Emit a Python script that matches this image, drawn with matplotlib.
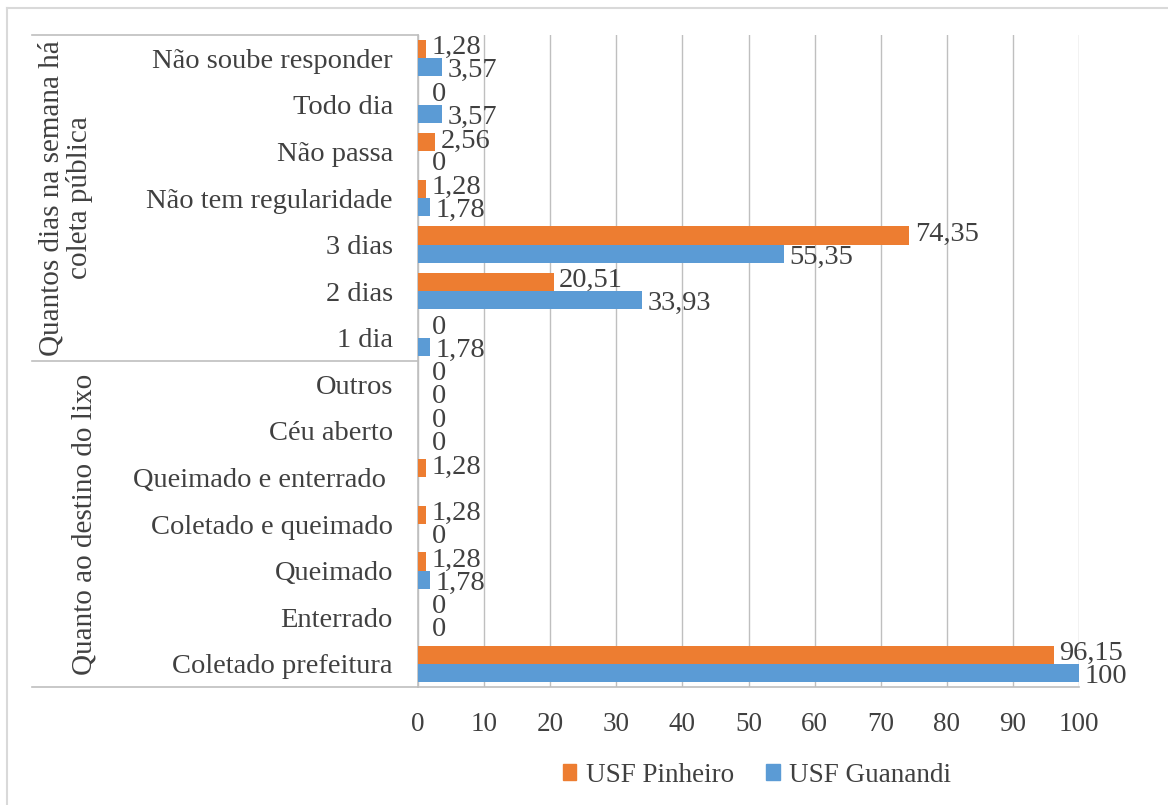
import matplotlib
matplotlib.use("Agg")
import matplotlib.pyplot as plt
import numpy as np
from matplotlib import transforms
from matplotlib.lines import Line2D
from matplotlib.patches import Patch

plt.rcParams['font.family'] = ['Liberation Serif', 'DejaVu Serif']

categories = ["Coletado prefeitura", "Enterrado", "Queimado", "Coletado e queimado",
              "Queimado e enterrado ", "Céu aberto", "Outros",
              "1 dia", "2 dias", "3 dias", "Não tem regularidade", "Não passa",
              "Todo dia", "Não soube responder"]
pinheiro = [96.15, 0, 1.28, 1.28, 1.28, 0, 0, 0, 20.51, 74.35, 1.28, 2.56, 0, 1.28]
guanandi = [100, 0, 1.78, 0, None, 0, 0, 1.78, 33.93, 55.35, 1.78, 0, 3.57, 3.57]
groups = ["Quanto ao destino do lixo", "Quantos dias na semana há\ncoleta pública"]
group_sizes = [7, 7]
series_names = ["USF Pinheiro", "USF Guanandi"]
xticks = list(range(0, 101, 10))

ORANGE = "#ED7D31"
BLUE = "#5B9BD5"
TXT = "#404040"
GRID = "#BFBFBF"
FS_CAT = 20.5
FS_TICK = 19.5
FS_LAB = 20.5
FS_GRP = 21
FS_LEG = 19.5

W, H = 1168, 805
fig = plt.figure(figsize=(W / 100, H / 100), dpi=100)
ax = fig.add_axes([418 / W, 1 - 687 / H, (1079 - 418) / W, (687 - 35) / H])

y = np.arange(len(categories))
h = 0.39
pv = np.array(pinheiro, dtype=float)
gv = np.array([np.nan if v is None else v for v in guanandi], dtype=float)
ax.barh(y + h / 2, pv, height=h, color=ORANGE, zorder=3)
ax.barh(y - h / 2, np.nan_to_num(gv), height=h, color=BLUE, zorder=3)

def fmt(v):
    if v == int(v):
        return str(int(v))
    return f"{v:.2f}".replace(".", ",")

def off(v):
    return 10 if v == 0 else 4

for yi, v in zip(y, pv):
    ax.annotate(fmt(v), (v, yi + h / 2 + 0.03), xytext=(off(v), 0), textcoords="offset points",
                ha="left", va="center", fontsize=FS_LAB, color=TXT, zorder=4)
for yi, v in zip(y, gv):
    if np.isnan(v):
        continue
    ax.annotate(fmt(v), (v, yi - h / 2 - 0.07), xytext=(off(v), 0), textcoords="offset points",
                ha="left", va="center", fontsize=FS_LAB, color=TXT, zorder=4)

ax.set_xlim(0, 100)
ax.set_ylim(-0.5, len(categories) - 0.5)
ax.set_xticks(xticks)
ax.set_xticklabels([str(t) for t in xticks])
ax.set_yticks(y)
ax.set_yticklabels(categories)
ax.tick_params(axis="both", length=0, colors=TXT)
ax.tick_params(axis="y", pad=18, labelsize=FS_CAT)
ax.tick_params(axis="x", pad=18, labelsize=FS_TICK)
ax.grid(axis="x", color=GRID, linewidth=1.0, zorder=0)
for s in ["top", "right"]:
    ax.spines[s].set_visible(False)
ax.spines["left"].set_color(GRID)
ax.spines["bottom"].set_color(GRID)
ax.spines["left"].set_linewidth(1.2)
ax.spines["bottom"].set_linewidth(1.2)

# multi-level category dividers and group labels
bt = transforms.blended_transform_factory(fig.transFigure, ax.transData)
x0 = 32 / W
x1 = 418 / W
bounds = [-0.5]
for s in group_sizes:
    bounds.append(bounds[-1] + s)
for b in bounds:
    fig.add_artist(Line2D([x0, x1], [b, b], transform=bt, color=GRID, linewidth=1.2))
gx = [85 / W, 66 / W]
for gi, g in enumerate(groups):
    mid = (bounds[gi] + bounds[gi + 1]) / 2
    fig.text(gx[gi], mid, g, transform=bt, rotation=90, ha="center", va="center",
             fontsize=FS_GRP, color=TXT, multialignment="center", linespacing=1.05)

# outer chart border
fig.add_artist(Line2D([7 / W, 1.0], [1 - 8 / H, 1 - 8 / H], transform=fig.transFigure,
                      color="#D9D9D9", linewidth=1.5))
fig.add_artist(Line2D([7 / W, 7 / W], [0, 1 - 8 / H], transform=fig.transFigure,
                      color="#D9D9D9", linewidth=1.5))

handles = [Patch(color=ORANGE), Patch(color=BLUE)]
fig.legend(handles, series_names, loc="center", bbox_to_anchor=(757 / W, 1 - 775 / H),
           ncol=2, frameon=False, fontsize=FS_LEG, handlelength=0.5, handleheight=0.5,
           handletextpad=0.35, columnspacing=1.2, labelcolor=TXT)

fig.savefig("out.png", dpi=100)
